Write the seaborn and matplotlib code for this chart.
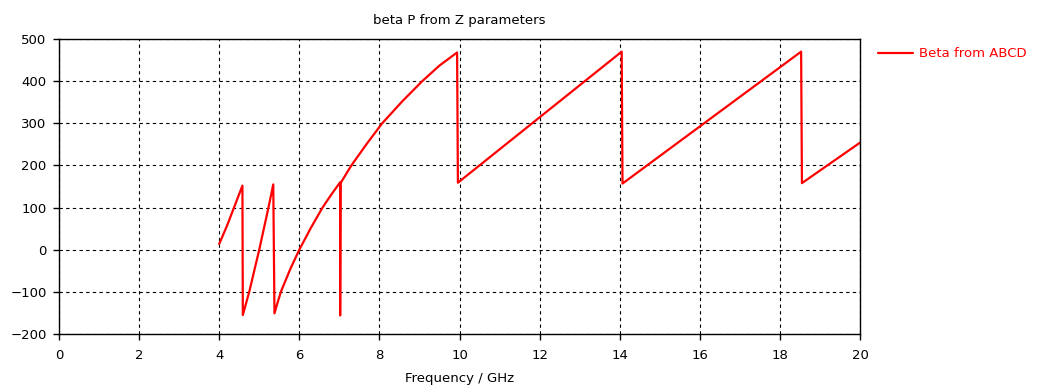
import matplotlib
matplotlib.use("Agg")
import matplotlib.pyplot as plt
import seaborn as sns
import pandas as pd

# Data (discontinuities as repeated frequencies)
freq_ghz = [4.00, 4.20, 4.37, 4.58, 4.59, 4.75, 5.00, 5.23, 5.35, 5.38,
            5.45, 5.54, 5.77, 6.00, 6.29, 6.58, 6.80, 7.02, 7.02, 7.03,
            7.30, 7.69, 8.07, 8.57, 9.07, 9.50, 9.94, 9.96,
            14.05, 14.07, 18.53, 18.55, 20.00]
beta = [13.6, 58, 100, 152, -155, -100, 0, 100, 155, -151,
        -128, -100, -47, 0, 52, 100, 131, 160, -156, 158,
        200, 252, 300, 352, 400, 437, 468, 159,
        470, 157, 470, 158, 254]

title = "beta P from Z parameters"
xlabel = "Frequency / GHz"
series_name = "Beta from ABCD"
xticks = [0, 2, 4, 6, 8, 10, 12, 14, 16, 18, 20]
yticks = [-200, -100, 0, 100, 200, 300, 400, 500]

df = pd.DataFrame({"f": freq_ghz, "beta": beta, "series": series_name})

sns.set_theme(style="white")
plt.rcParams["font.family"] = ["DejaVu Sans"]

fig = plt.figure(figsize=(10.59, 3.87), dpi=100)
ax = fig.add_axes([59 / 1059, 1 - 334 / 387, (860 - 59) / 1059, (334 - 39) / 387])

sns.lineplot(data=df, x="f", y="beta", hue="series", palette=["#ff0000"],
             sort=False, estimator=None, linewidth=1.6, ax=ax, legend=True)

ax.set_xlim(0, 20)
ax.set_ylim(-200, 500)
ax.set_xticks(xticks)
ax.set_yticks(yticks)
ax.tick_params(axis="both", direction="out", length=4, width=1, color="black",
               labelsize=9.5, labelcolor="black", left=True, bottom=True)
ax.tick_params(axis="x", pad=7)
ax.tick_params(axis="y", pad=5)
for s in ax.spines.values():
    s.set_color("black")
    s.set_linewidth(1)
    s.set_visible(True)
ax.grid(True, color="black", linestyle=(0, (3, 3)), linewidth=0.8)
ax.set_axisbelow(True)

ax.set_title(title, fontsize=9.5, color="black", pad=11)
ax.set_xlabel(xlabel, fontsize=9.5, color="black", labelpad=7)
ax.set_ylabel("")

leg = ax.legend(loc="upper left", bbox_to_anchor=(873 / 1059, 1 - 42 / 387),
                bbox_transform=fig.transFigure, frameon=False, fontsize=9.5,
                handlelength=2.6, handletextpad=0.5, borderaxespad=0)
for t in leg.get_texts():
    t.set_color("#ff0000")

fig.savefig("out.png", dpi=100)
